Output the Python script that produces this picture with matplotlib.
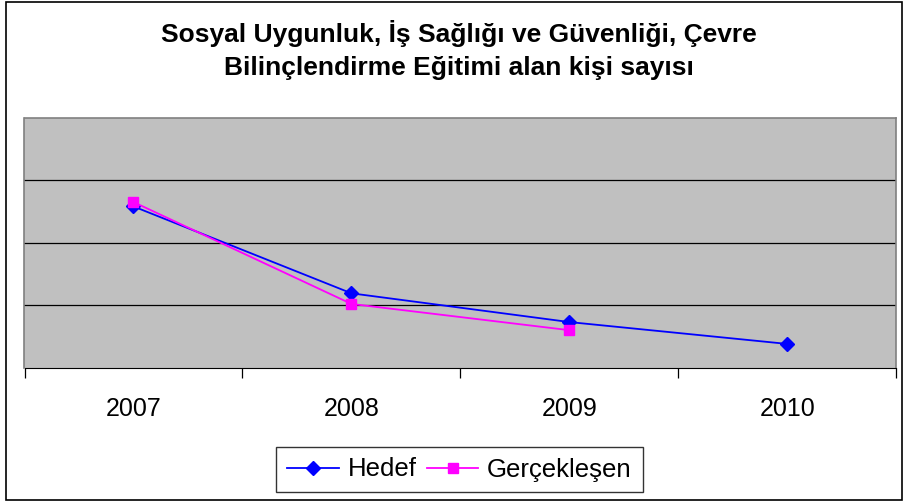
import matplotlib
matplotlib.use("Agg")
import matplotlib.pyplot as plt
from matplotlib.patches import Rectangle

plt.rcParams["font.family"] = ["Liberation Sans", "DejaVu Sans"]

years = ["2007", "2008", "2009", "2010"]
hedef = [2580, 1190, 730, 380]
gerceklesen = [2650, 1020, 600]

fig = plt.figure(figsize=(9.04, 5.01), dpi=100)
# outer chart border
fig.add_artist(Rectangle((6 / 904, 1 / 501), 896 / 904, 498 / 501,
                         transform=fig.transFigure, fill=False,
                         edgecolor="black", lw=1.2))

ax = fig.add_axes([24.5 / 904, 1 - 367.7 / 501, 872 / 904, 250 / 501])
ax.set_facecolor("#c0c0c0")
x = range(len(years))
ax.plot(x, hedef, color="#0000ff", marker="D", ms=7, lw=1.3, label="Hedef")
ax.plot(range(len(gerceklesen)), gerceklesen, color="#ff00ff", marker="s",
        ms=7, lw=1.3, label="Gerçekleşen")

ax.set_xlim(-0.5, len(years) - 0.5)
ax.set_ylim(0, 4000)
ax.set_yticks([1000, 2000, 3000])
ax.yaxis.grid(True, color="black", lw=0.9)
ax.tick_params(axis="y", left=False, labelleft=False)
ax.set_xticks(x)
ax.set_xticklabels(years, fontsize=18)
ax.tick_params(axis="x", length=0, pad=21)
ax.set_xticks([i - 0.5 for i in range(len(years) + 1)], minor=True)
ax.tick_params(axis="x", which="minor", length=7, direction="out", width=0.9)
for side in ["top", "right", "left"]:
    ax.spines[side].set_color("#808080")
    ax.spines[side].set_linewidth(1.2)
ax.spines["bottom"].set_color("black")

fig.text(0.508, 1 - 42 / 501, "Sosyal Uygunluk, İş Sağlığı ve Güvenliği, Çevre",
         ha="center", va="baseline", fontsize=19, fontweight="bold")
fig.text(0.508, 1 - 75 / 501, "Bilinçlendirme Eğitimi alan kişi sayısı",
         ha="center", va="baseline", fontsize=19, fontweight="bold")

fig.legend(loc="center", bbox_to_anchor=(459.5 / 904, 1 - 469.5 / 501), ncol=2,
           fontsize=18.5, frameon=True, fancybox=False, edgecolor="black",
           handlelength=2.0, columnspacing=0.4, handletextpad=0.35,
           borderpad=0.42, borderaxespad=0)

fig.savefig("out.png", dpi=100)
